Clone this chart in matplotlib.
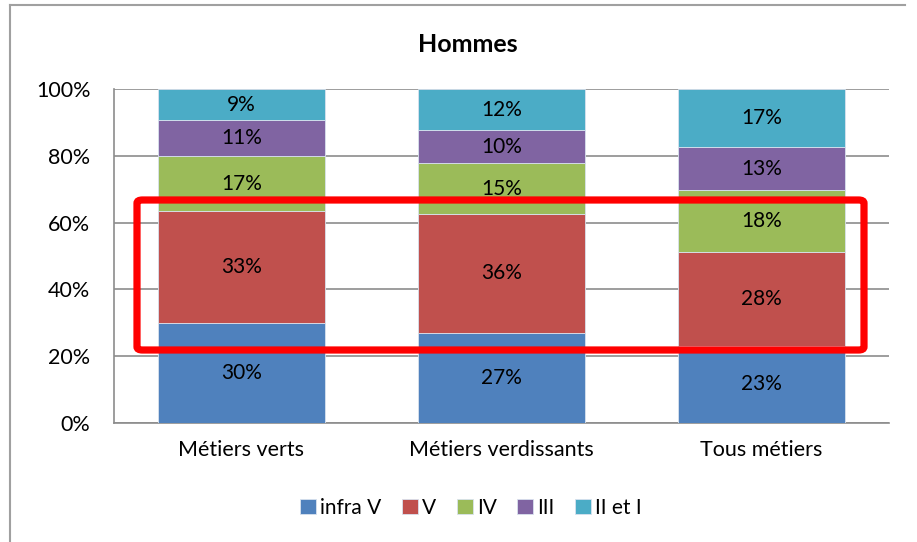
import matplotlib.pyplot as plt
from matplotlib.patches import FancyBboxPatch
from matplotlib.lines import Line2D

plt.rcParams['font.family'] = ['Lato', 'DejaVu Sans']

categories = ['Métiers verts', 'Métiers verdissants', 'Tous métiers']
series = ['infra V', 'V', 'IV', 'III', 'II et I']
colors = ['#4F81BD', '#C0504D', '#9BBB59', '#8064A2', '#4BACC6']
infra_v = [30, 27, 23.2]
v = [33.4, 35.6, 28.1]
iv = [16.5, 15.2, 18.4]
iii = [10.8, 9.9, 12.9]
ii_i = [9.3, 12.3, 17.4]
labels = [[30, 27, 23], [33, 36, 28], [17, 15, 18], [11, 10, 13], [9, 12, 17]]

fig = plt.figure(figsize=(9.17, 5.42), dpi=100)
ax = fig.add_axes([114/917, 1 - 423/542, 775/917, 334/542])

x = range(len(categories))
bottom = [0, 0, 0]
for vals, col, name, lab in zip([infra_v, v, iv, iii, ii_i], colors, series, labels):
    bars = ax.bar(x, vals, 0.64, bottom=bottom, color=col, label=name,
                  edgecolor='#d9e2ee', linewidth=0.6, zorder=3)
    ax.bar_label(bars, labels=['%d%%' % l for l in lab], label_type='center',
                 fontsize=15, color='black')
    bottom = [b + w for b, w in zip(bottom, vals)]

ax.set_xlim(-0.49, 2.49)
ax.set_ylim(0, 100)
ax.set_yticks(range(0, 101, 20))
ax.set_yticklabels(['%d%%' % t for t in range(0, 101, 20)])
ax.set_xticks(list(x))
ax.set_xticklabels(categories)
ax.tick_params(axis='y', length=0, labelsize=15.5, pad=17)
ax.tick_params(axis='x', length=0, labelsize=15.5, pad=12)
ax.grid(axis='y', color='#8c8c8c', linewidth=1.2, zorder=0)
for s in ['top', 'right']:
    ax.spines[s].set_visible(False)
for s in ['left', 'bottom']:
    ax.spines[s].set_color('#8c8c8c')
    ax.spines[s].set_linewidth(1.2)

fig.text(468/917, 1 - 44/542, 'Hommes', ha='center', va='center',
         fontsize=18, fontweight='bold')

ax.legend(loc='center', bbox_to_anchor=(471/917, 1 - 508/542),
          bbox_transform=fig.transFigure, ncol=5, frameon=False,
          fontsize=15, handlelength=0.75, handleheight=0.75,
          handletextpad=0.2, columnspacing=1.0)

# chart border
fig.add_artist(Line2D([10/917, 10/917], [0, 1 - 5/542], color='#a0a0a0', lw=1.5))
fig.add_artist(Line2D([10/917, 905/917], [1 - 5/542, 1 - 5/542], color='#a0a0a0', lw=1.5))

# red highlight box
fig.add_artist(FancyBboxPatch((137/917, 1 - 350/542), 727/917, 150/542,
                              boxstyle='round,pad=0,rounding_size=0.006',
                              transform=fig.transFigure, fill=False,
                              edgecolor='#ff0000', linewidth=5.2, zorder=10))

fig.savefig('out.png', dpi=100)
